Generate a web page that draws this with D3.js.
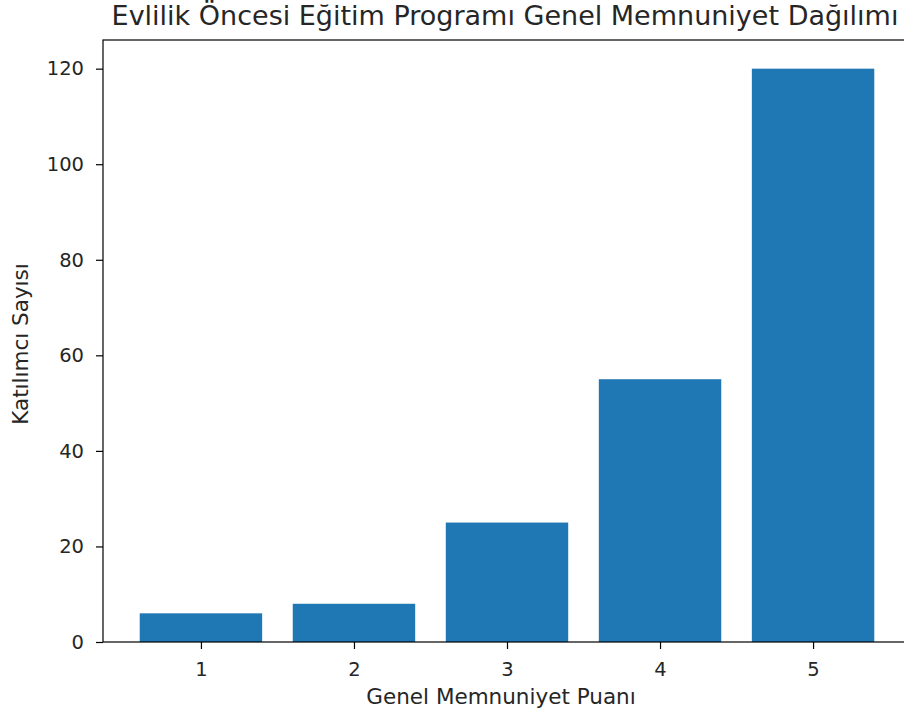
<!DOCTYPE html>
<html>
<head>
<meta charset="utf-8">
<script src="https://cdn.jsdelivr.net/npm/d3@7"></script>
<style>
  body { margin: 0; background: #fff; }
  svg text { font-family: "DejaVu Sans", sans-serif; fill: #262626; }
</style>
</head>
<body>
<div id="chart"></div>
<script>
"use strict";

// data
const scores = [1, 2, 3, 4, 5];
const counts = [6, 8, 25, 55, 120];
const yTicks = [0, 20, 40, 60, 80, 100, 120];

const width = 904, height = 719;
const margin = {top: 40, right: -7, bottom: 77, left: 103};

let svg = d3.select("#chart")
.append("svg")
.attr("width", width)
.attr("height", height);

let x = d3.scaleLinear()
.domain([0.36, 5.64])
.range([margin.left, width - margin.right]);

let y = d3.scaleLinear()
.domain([0, 126])
.range([height - margin.bottom, margin.top]);

// bars
svg.append("g")
.selectAll("rect")
.data(scores)
.enter()
.append("rect")
.attr("x", (d) => x(d - 0.4))
.attr("width", (d) => x(d + 0.4) - x(d - 0.4))
.attr("y", (d, i) => y(counts[i]))
.attr("height", (d, i) => y(0) - y(counts[i]))
.attr("fill", "#1f77b4");

// axes
let xAxis = svg.append("g")
.attr("transform", `translate(0, ${y(0)})`)
.call(d3.axisBottom(x).tickValues(scores).tickFormat(d3.format("d")).tickSize(7).tickPadding(13));

let yAxis = svg.append("g")
.attr("transform", `translate(${margin.left}, 0)`)
.call(d3.axisLeft(y).tickValues(yTicks).tickSize(7).tickPadding(12));

[xAxis, yAxis].forEach(a => {
    a.select(".domain").remove();
    a.selectAll("line").attr("stroke", "#000").attr("stroke-width", 1.2);
    a.selectAll("text").attr("font-size", 19.5).attr("fill", "#262626")
    .style("font-family", "DejaVu Sans, sans-serif");
});

// spines
svg.append("rect")
.attr("x", margin.left)
.attr("y", margin.top)
.attr("width", x(5.64) - margin.left)
.attr("height", y(0) - margin.top)
.attr("fill", "none")
.attr("stroke", "#000")
.attr("stroke-width", 1.2);

// title and labels
svg.append("text")
.attr("x", 505)
.attr("y", 25)
.attr("text-anchor", "middle")
.attr("font-size", 27)
.text("Evlilik Öncesi Eğitim Programı Genel Memnuniyet Dağılımı");

svg.append("text")
.attr("x", 501)
.attr("y", 704)
.attr("text-anchor", "middle")
.attr("font-size", 21.5)
.text("Genel Memnuniyet Puanı");

svg.append("text")
.attr("transform", `translate(28, 344) rotate(-90)`)
.attr("text-anchor", "middle")
.attr("font-size", 21.5)
.text("Katılımcı Sayısı");
</script>
</body>
</html>
